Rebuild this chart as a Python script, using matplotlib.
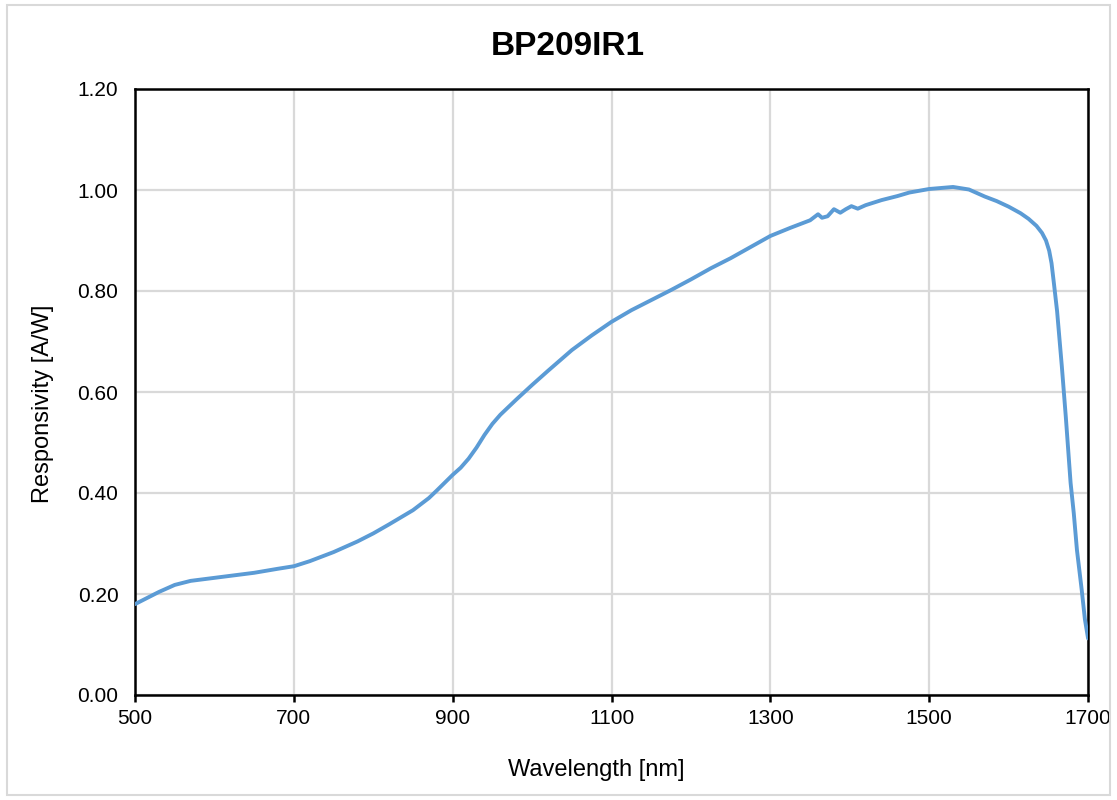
import matplotlib
matplotlib.use("Agg")
import matplotlib.pyplot as plt
from matplotlib.patches import Rectangle

plt.rcParams['font.family'] = ['Liberation Sans', 'DejaVu Sans']

# curve
wavelength = [500, 510, 520, 530, 550, 570, 600, 620, 650, 680, 700, 720, 750,
              780, 800, 820, 850, 870, 880, 900, 910, 920, 930, 940, 950, 960,
              980, 1000, 1020, 1050, 1075, 1100, 1125, 1150, 1175, 1200, 1225,
              1250, 1275, 1300, 1325, 1350, 1360, 1365, 1372, 1380, 1388, 1395,
              1402, 1410, 1420, 1440, 1460, 1475, 1500, 1515, 1530, 1550, 1570,
              1585, 1600, 1615, 1625, 1635, 1642, 1647, 1651, 1654, 1657, 1661,
              1667, 1672, 1678, 1682, 1686, 1692, 1696, 1700]
responsivity = [0.180, 0.188, 0.196, 0.204, 0.218, 0.226, 0.232, 0.236, 0.242,
                0.250, 0.255, 0.265, 0.283, 0.304, 0.320, 0.338, 0.366, 0.390,
                0.405, 0.436, 0.450, 0.468, 0.490, 0.515, 0.537, 0.555, 0.585,
                0.614, 0.642, 0.683, 0.712, 0.739, 0.762, 0.782, 0.802, 0.823,
                0.845, 0.865, 0.887, 0.909, 0.925, 0.940, 0.952, 0.945, 0.948,
                0.962, 0.955, 0.962, 0.968, 0.963, 0.970, 0.980, 0.988, 0.995,
                1.002, 1.004, 1.006, 1.001, 0.987, 0.978, 0.967, 0.954, 0.943,
                0.929, 0.915, 0.900, 0.880, 0.855, 0.815, 0.760, 0.650, 0.550,
                0.420, 0.360, 0.287, 0.208, 0.150, 0.112]

x_ticks = [500, 700, 900, 1100, 1300, 1500, 1700]
y_ticks = [0.0, 0.2, 0.4, 0.6, 0.8, 1.0, 1.2]

fig = plt.figure(figsize=(11.17, 8), dpi=100)
ax = fig.add_axes([0.1209, 0.13125, 0.8532, 0.7575])

ax.plot(wavelength, responsivity, color='#5B9BD5', lw=2.8,
        solid_capstyle='round', solid_joinstyle='round', zorder=3)

ax.set_xlim(500, 1700)
ax.set_ylim(0, 1.2)
ax.set_xticks(x_ticks)
ax.set_yticks(y_ticks)
ax.set_yticklabels([f"{v:.2f}" for v in y_ticks])
ax.grid(True, color='#D9D9D9', lw=1.6)
ax.set_axisbelow(True)
for s in ax.spines.values():
    s.set_linewidth(1.8)
    s.set_color('black')
ax.tick_params(axis='x', direction='out', length=5, width=1.8, labelsize=15, pad=5)
ax.tick_params(axis='y', length=0, labelsize=15, pad=12)

ax.set_xlabel("Wavelength [nm]", fontsize=17)
ax.xaxis.set_label_coords(0.484, -0.105)
ax.set_ylabel("Responsivity [A/W]", fontsize=17)
ax.yaxis.set_label_coords(-0.085, 0.48)
fig.suptitle("BP209IR1", x=0.508, y=0.942, va='center', fontsize=24, fontweight='bold')

fig.patches.append(Rectangle((0.006, 0.006), 0.988, 0.988, transform=fig.transFigure,
                             fill=False, edgecolor='#D9D9D9', lw=1.5))

fig.savefig("out.png", dpi=100)
